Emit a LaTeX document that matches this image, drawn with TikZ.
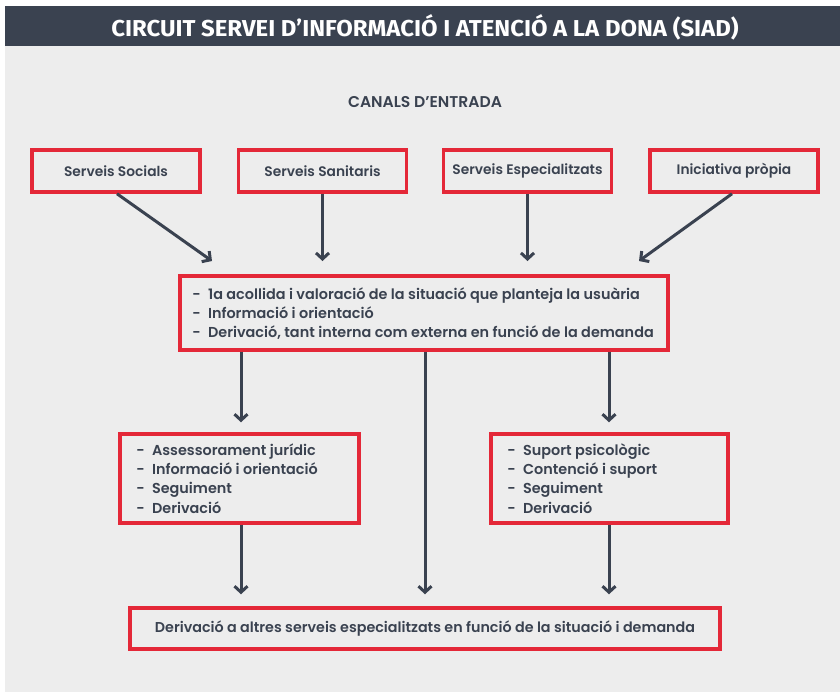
\documentclass[tikz,border=0pt]{standalone}
\usepackage{fontspec}
\setmainfont{Poppins}[UprightFont=* SemiBold,BoldFont=* Bold]
\newfontfamily\titlefont{Fira Sans}[UprightFont=* Bold]
\usetikzlibrary{arrows.meta,calc}
\definecolor{darkc}{HTML}{3A4250}
\definecolor{redc}{HTML}{E42838}
\definecolor{bgc}{HTML}{EDEDED}
\begin{document}
\begin{tikzpicture}[x=1pt,y=-1pt,
  box/.style={draw=redc,line width=3.5pt,fill=bgc,text=darkc,inner sep=0pt,font=\fontsize{14.3}{19.2}\selectfont},
  topbox/.style={box,font=\fontsize{13.8}{19.2}\selectfont,minimum width=168pt,minimum height=42pt},
  txt/.style={text=darkc,inner sep=0pt,align=left,anchor=west,font=\fontsize{14.4}{19.2}\selectfont},
  arr/.style={draw=darkc,line width=3pt,-{Straight Barb[length=6pt,width=13pt,line width=3pt]}}]
\useasboundingbox (0,0) rectangle (840,697);
\fill[white] (0,0) rectangle (840,697);
\fill[bgc] (5,45) rectangle (840,692);
\fill[darkc] (5,6) rectangle (840,46);
\node[text=white,font=\titlefont\fontsize{23}{23}\selectfont] (title) at (425,27) {\scalebox{1.04}[1]{CIRCUIT SERVEI D’INFORMACIÓ I ATENCIÓ A LA DONA (SIAD)}};
\node[text=darkc,font=\fontsize{15.6}{16}\selectfont] (canals) at (425,102) {CANALS D’ENTRADA};
\node[topbox] (ss) at (116,171) {Serveis Socials};
\node[topbox] (sn) at (322.5,171) {Serveis Sanitaris};
\node[topbox] (se) at (527.5,171) {Serveis Especialitzats};
\node[topbox] (ip) at (734,171) {Iniciativa pròpia};
\node[box,minimum width=488pt,minimum height=74pt] (mid) at (424,313) {};
\node[txt] (midt) at ($(mid.west)+(14,0.5)$) {-\enspace 1a acollida i valoració de la situació que planteja la usuària\\-\enspace Informació i orientació\\-\enspace Derivació, tant interna com externa en funció de la demanda};
\node[box,minimum width=239pt,minimum height=89pt] (lb) at (239.5,478.5) {};
\node[txt] (lbt) at ($(lb.west)+(18,0)$) {-\enspace Assessorament jurídic\\-\enspace Informació i orientació\\-\enspace Seguiment\\-\enspace Derivació};
\node[box,minimum width=237pt,minimum height=89pt] (rb) at (609.5,478.5) {};
\node[txt] (rbt) at ($(rb.west)+(18,0)$) {-\enspace Suport psicològic\\-\enspace Contenció i suport\\-\enspace Seguiment\\-\enspace Derivació};
\node[box,minimum width=590pt,minimum height=41pt] (bot) at (425,628.5) {Derivació a altres serveis especialitzats en funció de la situació i demanda};
\coordinate (a1) at (212,261);
\coordinate (a4) at (639,261);
\coordinate (ssb) at ($(ss.south)+(1,0)$);
\coordinate (ipb) at ($(ip.south)+(-2,0)$);
\coordinate (m1) at ($(mid.south)+(-183,0)$);
\coordinate (m2) at ($(mid.south)+(185,0)$);
\coordinate (m3) at ($(mid.south)+(1,0)$);
\coordinate (l1) at ($(lb.south)+(1.5,0)$);
\coordinate (r1) at ($(rb.south)+(-0.5,0)$);
\coordinate (m1e) at ($(m1 |- lb.north)+(0,-10)$);
\coordinate (m2e) at ($(m2 |- rb.north)+(0,-10)$);
\coordinate (m3e) at ($(m3 |- bot.north)+(0,-12)$);
\coordinate (l1e) at ($(l1 |- bot.north)+(0,-12)$);
\coordinate (r1e) at ($(r1 |- bot.north)+(0,-12)$);
\draw[arr] (ssb) -- (a1);
\draw[arr] (sn.south) -- (sn.south |- a1);
\draw[arr] (se.south) -- (se.south |- a1);
\draw[arr] (ipb) -- (a4);
\draw[arr] (m1) -- (m1e);
\draw[arr] (m2) -- (m2e);
\draw[arr] (m3) -- (m3e);
\draw[arr] (l1) -- (l1e);
\draw[arr] (r1) -- (r1e);
\end{tikzpicture}
\end{document}
